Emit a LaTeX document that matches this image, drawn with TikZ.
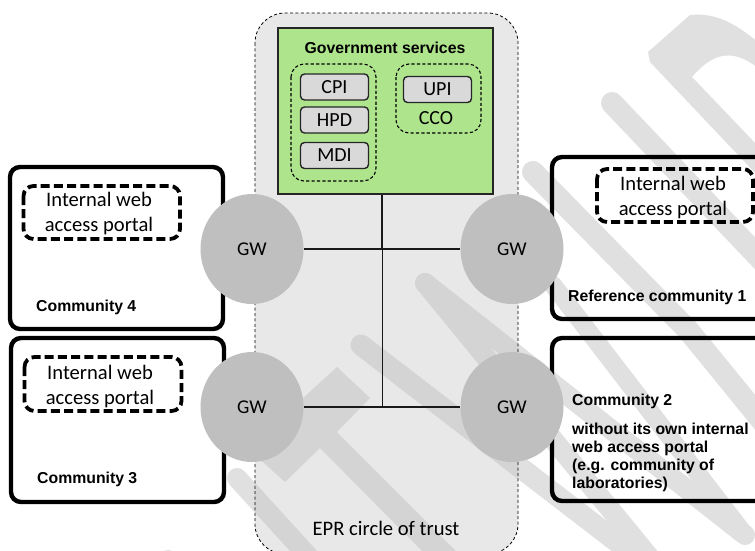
\documentclass[tikz,border=0pt]{standalone}
\usepackage{fontspec}
\setmainfont{Carlito}
\newfontfamily\arialb[BoldFont={Liberation Sans Bold}]{Liberation Sans}
\newcommand{\stripesall}[1]{%
  \fill[#1] (648,52) -- (690,15) .. controls (720,12) and (740,28) .. (758,42) -- (758,68) .. controls (735,50) and (715,50) .. (692,77) -- (758,146) -- (758,176) -- (650,62) -- cycle;
  \draw[#1,line width=22,line cap=round] (612,103) -- (790,290);
  \draw[#1,line width=22,line cap=round,line join=round] (533,172) -- (688,330) -- (790,455);
  \draw[#1,line width=20,line cap=round] (425,283) -- (745,535);
  \draw[#1,line width=18,line cap=round] (553,285) -- (745,535);
  \draw[#1,line width=20,line cap=round] (425,283) -- (660,570);
  \draw[#1,line width=21,line cap=round] (361,345) -- (660,575);
  \fill[#1] (290,410) -- (337,367) -- (370,398) -- (337,432) -- (457,552) -- (423,552) -- (320,448) -- (285,482) -- (255,455) -- cycle;
  \draw[#1,line width=20,line cap=round] (237,478) -- (330,580);
  \draw[#1,line width=22,line cap=round] (168,561) -- (200,600);
}
\tikzset{
  x=1pt,y=-1pt,
  epr/.style={draw=black,dash pattern=on 3pt off 2.4pt,line width=0.8pt,rounded corners=30pt},
  svc/.style={draw=black!85,fill=black!15,line width=1.4pt,rounded corners=4pt,minimum width=68pt,minimum height=26pt,inner sep=0pt,font=\fontsize{20}{20}\selectfont},
  grp/.style={draw=black,line width=1.1pt,dash pattern=on 3.2pt off 2.2pt,rounded corners=13pt},
  comm/.style={draw=black,line width=4.4pt,rounded corners=10pt},
  portal/.style={draw=black,line width=3.8pt,dash pattern=on 9pt off 4.2pt,rounded corners=10pt},
  portaltext/.style={align=center,font=\fontsize{20.6}{25}\selectfont,inner sep=0pt},
  gateway/.style={ellipse,fill=black!25,minimum width=103pt,minimum height=110pt,inner sep=0pt,font=\fontsize{19.5}{19.5}\selectfont},
  clabel/.style={anchor=west,align=left,inner sep=0pt,font=\arialb\bfseries\fontsize{15.8}{18.2}\selectfont},
  link/.style={draw=black!90,line width=1.3pt},
}
\usetikzlibrary{shapes.geometric}
\begin{document}
\begin{tikzpicture}
\useasboundingbox (0,0) rectangle (755,550);
\fill[white] (0,0) rectangle (755,550);
\begin{scope}
\clip (0,0) rectangle (755,550);
\stripesall{black!12}
\fill[black!9,rounded corners=30pt] (255,13) rectangle (518,554);
\begin{scope}
\clip[rounded corners=30pt] (255,13) rectangle (518,554);
\stripesall{black!17}
\end{scope}
\draw[epr] (255,13) rectangle (518,554);
\draw[comm] (552,157) rectangle (775,319);
\draw[comm] (552,338) rectangle (775,501);
\end{scope}
% government services
\node[draw=black!85,fill={rgb,255:red,174;green,229;blue,140},line width=1.4pt,minimum width=215pt,minimum height=166pt,inner sep=0pt] (gov) at (385.5,111) {};
\node[inner sep=0pt,font=\arialb\bfseries\fontsize{15.8}{16}\selectfont] (govt) at (385,48) {Government services};
\draw[grp] (291,64) rectangle (376,181);
\draw[grp] (396,64) rectangle (481,133);
\node[svc] (cpi) at (334.5,87) {CPI};
\node[svc] (hpd) at (334.5,120) {HPD};
\node[svc] (mdi) at (334.5,155.5) {MDI};
\node[svc] (upi) at (437.5,89.5) {UPI};
\node[inner sep=0pt,font=\fontsize{20}{20}\selectfont] (cco) at (436,118) {CCO};
% left communities
\draw[comm] (10,167) rectangle (223,329);
\draw[comm] (11,338) rectangle (224,502);
\draw[portal] (23.5,186) rectangle (180,239);
\draw[portal] (24.5,357) rectangle (181.5,411);
\draw[portal] (597,169) rectangle (753,222);
\node[portaltext] (p4) at (99,214) {Internal web\\access portal};
\node[portaltext] (p3) at (100,386.5) {Internal web\\access portal};
\node[portaltext] (p1) at (673,198) {Internal web\\access portal};
\node[clabel] (c4) at (36,307.5) {Community 4};
\node[clabel] (c3) at (37,479.5) {Community 3};
\node[clabel] (c1) at (568,297.5) {Reference community 1};
\node[clabel] (c2) at (572,401) {Community 2};
\node[clabel] (c2b) at (572,457.5) {without its own internal\\web access portal\\(e.g. community of\\laboratories)};
\node[inner sep=0pt,font=\fontsize{20.6}{20.6}\selectfont] (eprt) at (386,528) {EPR circle of trust};
% gateways
\node[gateway] (gw4) at (252,249) {GW};
\node[gateway] (gw3) at (252,407) {GW};
\node[gateway] (gw1) at (512,249) {GW};
\node[gateway] (gw2) at (512,407) {GW};
\coordinate (j1) at (382,249);
\coordinate (j2) at (382.8,407);
\draw[link] (gw4.east) -- (gw1.west);
\draw[link] (gw3.east) -- (gw2.west);
\draw[link] (gov.south -| j1) -- (j1);
\draw[link] (j1 -| j2) -- (j2);
\end{tikzpicture}
\end{document}
